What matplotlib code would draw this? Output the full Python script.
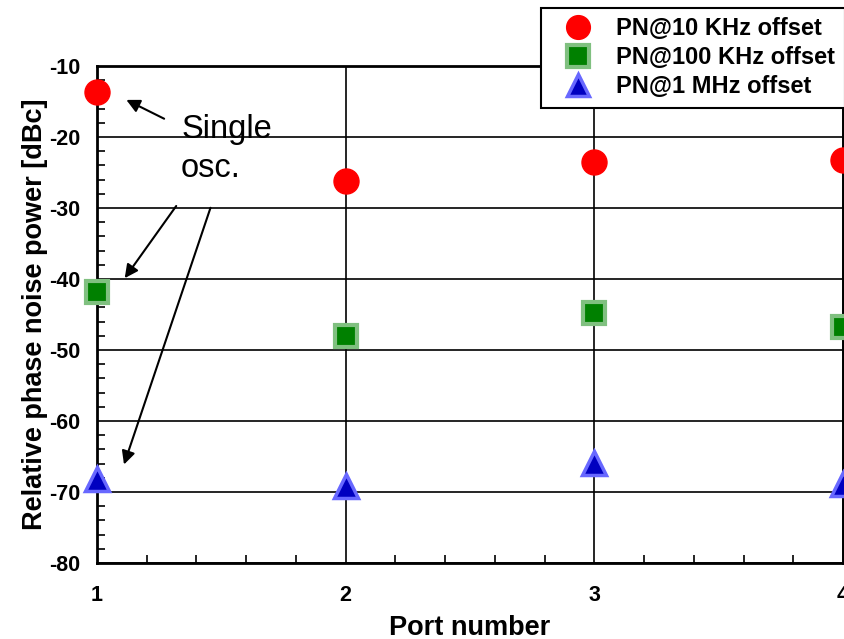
import matplotlib
matplotlib.use("Agg")
from matplotlib import pyplot as plt
from matplotlib.ticker import MultipleLocator

plt.rcParams['font.family'] = ['Liberation Sans', 'DejaVu Sans']
plt.rcParams['axes.unicode_minus'] = False

ports = [1, 2, 3, 4]
pn_10k = [-13.6, -26.2, -23.5, -23.2]
pn_100k = [-41.8, -48.0, -44.8, -46.8]
pn_1m = [-68.2, -69.2, -65.9, -68.9]

fig = plt.figure(figsize=(8.44, 6.39), dpi=100)
ax = fig.add_axes([97 / 844, 1 - 563 / 639, 746 / 844, 497 / 639])

ax.plot(ports, pn_10k, 'o', color='#ff0000', ms=18, mec='#ff0000',
        label='PN@10 KHz offset', clip_on=False, zorder=5)
ax.plot(ports, pn_100k, 's', color='#008000', ms=16, mec='#80c080', mew=3,
        label='PN@100 KHz offset', clip_on=False, zorder=5)
ax.plot(ports, pn_1m, '^', color='#0000c0', ms=17, mec='#6868ff', mew=2.5,
        label='PN@1 MHz offset', clip_on=False, zorder=5)

ax.set_xlim(1, 4)
ax.set_ylim(-80, -10)
ax.xaxis.set_major_locator(MultipleLocator(1))
ax.xaxis.set_minor_locator(MultipleLocator(0.2))
ax.yaxis.set_major_locator(MultipleLocator(10))
ax.yaxis.set_minor_locator(MultipleLocator(2))
ax.grid(True, which='major', color='black', linewidth=1.2)
ax.tick_params(which='both', direction='in', labelsize=15.5)
ax.tick_params(axis='x', which='major', length=0, pad=16)
ax.tick_params(axis='y', which='major', length=0, pad=12)
ax.tick_params(which='minor', length=6, width=1.2)
for lab in ax.get_xticklabels() + ax.get_yticklabels():
    lab.set_fontweight('bold')
for sp in ax.spines.values():
    sp.set_linewidth(2)

ax.set_xlabel('Port number', fontsize=19.5, fontweight='bold', labelpad=6)
ax.set_ylabel('Relative phase noise power [dBc]', fontsize=19.5, fontweight='bold', labelpad=1)

# annotation "Single osc."
ax.text(1.338, -20.1, 'Single', fontsize=23.5, va='baseline', ha='left')
ax.text(1.338, -25.6, 'osc.', fontsize=23.5, va='baseline', ha='left')
arrow = dict(arrowstyle='-|>', color='black', lw=1.5, mutation_scale=20)
ax.annotate('', xy=(1.108, -14.6), xytext=(1.28, -17.6), arrowprops=arrow)
ax.annotate('', xy=(1.105, -40.2), xytext=(1.325, -29.4), arrowprops=arrow)
ax.annotate('', xy=(1.105, -66.5), xytext=(1.46, -29.6), arrowprops=arrow)

leg = fig.legend(loc='upper left', bbox_to_anchor=(541 / 844, 1 - 8 / 639),
                 prop={'weight': 'bold', 'size': 17}, frameon=True, fancybox=False,
                 framealpha=1, borderpad=0.4, labelspacing=0.25, handletextpad=0.45,
                 borderaxespad=0, handlelength=2.34, markerscale=0.95)
leg.get_frame().set_edgecolor('black')
leg.get_frame().set_linewidth(1.5)
leg.set_zorder(10)

fig.savefig('out.png', dpi=100)
